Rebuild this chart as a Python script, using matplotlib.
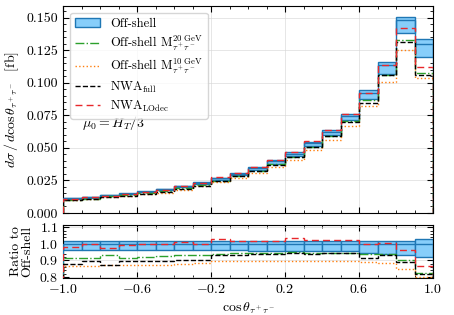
import numpy as np
import matplotlib
matplotlib.use("Agg")
import matplotlib.pyplot as plt
from matplotlib.ticker import MultipleLocator, FixedLocator
from matplotlib.patches import Patch
from matplotlib.lines import Line2D

plt.rcParams['font.family'] = 'serif'
plt.rcParams['font.serif'] = ['cmr10']
plt.rcParams['mathtext.fontset'] = 'cm'
plt.rcParams['axes.formatter.use_mathtext'] = True
plt.rcParams['font.size'] = 10

# bin edges of cos(theta)
edges = np.linspace(-1.0, 1.0, 21)
xticks = [-1.0, -0.6, -0.2, 0.2, 0.6, 1.0]

# Off-shell central value [fb] per bin
offshell = [0.0113, 0.0121, 0.0138, 0.0149, 0.0165, 0.0181, 0.0206, 0.0232, 0.0266, 0.0302,
            0.0345, 0.0397, 0.0456, 0.0537, 0.0625, 0.0745, 0.0925, 0.1135, 0.148, 0.130]
# scale band (ratio to central)
band_lo = [0.96] * 10 + [0.955] * 6 + [0.945, 0.94, 0.935, 0.92]
band_hi = [1.02] * 19 + [1.027]

# ratios to Off-shell
r_m20 = [0.915, 0.915, 0.93, 0.915, 0.92, 0.924, 0.93, 0.935, 0.936, 0.945,
         0.942, 0.942, 0.948, 0.947, 0.947, 0.947, 0.936, 0.936, 0.90, 0.826]
r_m10 = [0.863, 0.863, 0.87, 0.87, 0.87, 0.87, 0.876, 0.885, 0.894, 0.894,
         0.898, 0.898, 0.898, 0.898, 0.898, 0.898, 0.891, 0.885, 0.845, 0.80]
r_nwa = [0.88, 0.895, 0.874, 0.897, 0.898, 0.898, 0.904, 0.905, 0.93, 0.93,
         0.938, 0.938, 0.942, 0.94, 0.942, 0.942, 0.916, 0.934, 0.89, 0.815]
r_lodec = [0.98, 1.0, 0.972, 0.99, 1.0, 0.997, 1.01, 1.0, 1.03, 1.015,
           1.02, 1.02, 1.035, 1.025, 1.025, 1.025, 1.0, 1.005, 0.962, 0.865]

offshell = np.array(offshell)
c_blue = '#1f77b4'
c_fill = '#87cefa'
c_green = '#2ca02c'
c_orange = '#ff7f0e'
c_red = '#e8272b'

fig = plt.figure(figsize=(4.54, 3.15), dpi=100)
ax = fig.add_axes([0.1388, 0.3238, 0.815, 0.657])
axr = fig.add_axes([0.1388, 0.1184, 0.815, 0.1663], sharex=ax)

width = np.diff(edges)
lo = offshell * np.array(band_lo)
hi = offshell * np.array(band_hi)

ax.bar(edges[:-1], hi - lo, width=width, bottom=lo, align='edge',
       facecolor=c_fill, edgecolor=c_blue, lw=1.0, zorder=2)
ax.stairs(offshell, edges, color=c_blue, lw=1.0, zorder=3)
ax.stairs(offshell * np.array(r_m20), edges, color=c_green, ls='-.', lw=1.0, zorder=4)
ax.stairs(offshell * np.array(r_m10), edges, color=c_orange, ls=':', lw=1.0, zorder=4)
ax.stairs(offshell * np.array(r_nwa), edges, color='black', ls='--', lw=1.0, zorder=5)
ax.stairs(offshell * np.array(r_lodec), edges, color=c_red, ls=(0, (5, 3)), lw=1.0, zorder=5)

axr.bar(edges[:-1], np.array(band_hi) - np.array(band_lo), width=width, bottom=band_lo,
        align='edge', facecolor=c_fill, edgecolor=c_blue, lw=1.0, zorder=2)
axr.stairs(np.ones(20), edges, color=c_blue, lw=1.0, zorder=3)
axr.stairs(r_m20, edges, color=c_green, ls='-.', lw=1.0, zorder=4)
axr.stairs(r_m10, edges, color=c_orange, ls=':', lw=1.0, zorder=4)
axr.stairs(r_nwa, edges, color='black', ls='--', lw=1.0, zorder=5)
axr.stairs(r_lodec, edges, color=c_red, ls=(0, (5, 3)), lw=1.0, zorder=5)

ax.set_xlim(-1.0, 1.0)
ax.set_ylim(0, 0.159)
axr.set_ylim(0.795, 1.112)

for a in (ax, axr):
    a.tick_params(which='both', direction='in', top=True, right=True)
    a.tick_params(which='major', length=4)
    a.tick_params(which='minor', length=2)
    a.xaxis.set_major_locator(FixedLocator(xticks))
    a.xaxis.set_minor_locator(MultipleLocator(0.1))
    a.grid(True, color='#d5d5d5', lw=0.6, alpha=0.7, zorder=0)
    a.set_axisbelow(True)

ax.yaxis.set_major_locator(MultipleLocator(0.025))
ax.yaxis.set_minor_locator(MultipleLocator(0.005))
ax.yaxis.set_major_formatter(plt.FormatStrFormatter('%.3f'))
ax.tick_params(labelbottom=False)
axr.yaxis.set_major_locator(MultipleLocator(0.1))
axr.yaxis.set_minor_locator(MultipleLocator(0.02))
axr.xaxis.set_major_formatter(plt.FuncFormatter(lambda v, p: '$%.1f$' % v))

ax.set_ylabel(r'$d\sigma\,/\,d\cos\theta_{\tau^+\tau^-}$  [fb]')
axr.set_ylabel('Ratio to\nOff-shell', linespacing=0.9)
axr.set_xlabel(r'$\cos\theta_{\tau^+\tau^-}$')
fig.align_ylabels([ax, axr])

handles = [
    Patch(facecolor=c_fill, edgecolor=c_blue, lw=1.0),
    Line2D([], [], color=c_green, ls='-.', lw=1.0),
    Line2D([], [], color=c_orange, ls=':', lw=1.0),
    Line2D([], [], color='black', ls='--', lw=1.0),
    Line2D([], [], color=c_red, ls=(0, (5, 3)), lw=1.0),
]
labels = ['Off-shell',
          r'Off-shell M$_{\tau^+\tau^-}^{20\ \mathrm{GeV}}$',
          r'Off-shell M$_{\tau^+\tau^-}^{10\ \mathrm{GeV}}$',
          r'NWA$_{\mathrm{full}}$',
          r'NWA$_{\mathrm{LOdec}}$']
ax.legend(handles, labels, loc='upper left', bbox_to_anchor=(0.01, 0.985),
          frameon=True, fancybox=True, edgecolor='#cccccc', framealpha=0.8,
          fontsize=9, labelspacing=0.3, handlelength=2.0, handletextpad=0.8,
          borderaxespad=0.3, borderpad=0.4)
ax.text(-0.9, 0.066, r'$\mu_0 = H_T/3$', fontsize=10)

fig.savefig('out.png', dpi=100)
